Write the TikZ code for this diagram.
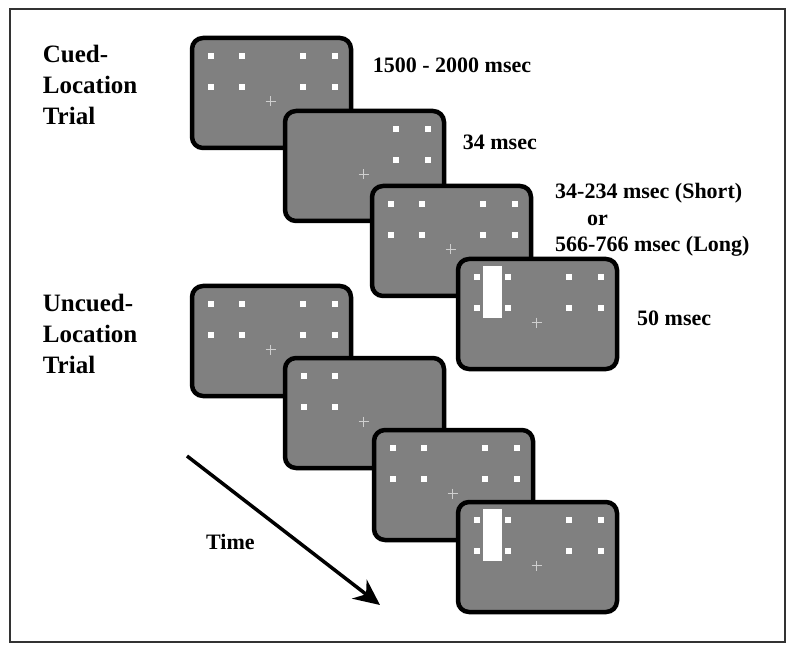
\documentclass[tikz,border=0pt]{standalone}
\usepackage{fontspec}
\setmainfont{Liberation Serif}
\usetikzlibrary{arrows.meta}
\definecolor{scrgray}{HTML}{808080}
\definecolor{fixgray}{HTML}{CFCFCF}
\tikzstyle{screen}=[draw=black,fill=scrgray,line width=4.5pt,rounded corners=11pt,minimum width=159pt,minimum height=110pt,inner sep=0pt]
\tikzstyle{dot}=[fill=white]
\tikzstyle{fix}=[draw=fixgray,line width=1.7pt]
\tikzstyle{dur}=[inner sep=0pt,anchor=base west,align=left,font=\fontsize{22}{26.5}\selectfont\bfseries]
\tikzstyle{trial}=[inner sep=0pt,anchor=base west,align=left,font=\fontsize{25}{31}\selectfont\bfseries]
\newcommand{\trialscreen}[4]{\node[screen] (#1) at (#2) {};
    \foreach \dx in {#3} {\foreach \dy in {-37,-6} {\fill[dot,shift={(#1.center)}] (\dx-3,\dy-3) rectangle +(6,6);}}
    \draw[fix,shift={(#1.center)}] (-6,8.5) -- (4,8.5) (-1,3.5) -- (-1,13.5);
    #4}
\newcommand{\target}[1]{\fill[white,shift={(#1.center)}] (-54.5,-48) rectangle (-35.5,4);}

\begin{document}
\begin{tikzpicture}[x=1pt,y=-1pt]
    \useasboundingbox (0,0) rectangle (795,652);
    \draw[black!80,line width=1.3pt] (10,9) rectangle (785,642);
    % cued-location trial
    \trialscreen{c1}{271.5,93}{-60.5,-29.5,31.5,63.5}{}
    \trialscreen{c2}{364.5,166}{31.5,63.5}{}
    \trialscreen{c3}{451.5,241}{-60.5,-29.5,31.5,63.5}{}
    \trialscreen{c4}{537.5,314}{-60.5,-29.5,31.5,63.5}{\target{c4}}
    % uncued-location trial
    \trialscreen{u1}{271.5,341}{-60.5,-29.5,31.5,63.5}{}
    \trialscreen{u2}{364.5,413}{-60.5,-29.5}{}
    \trialscreen{u3}{453.5,485}{-60.5,-29.5,31.5,63.5}{}
    \trialscreen{u4}{537.5,557}{-60.5,-29.5,31.5,63.5}{\target{u4}}

    % multi-line nodes sit on their last line
    \node[trial] (cued) at (42.7,125) {Cued-\\Location\\Trial};
    \node[trial] (uncued) at (42.7,373) {Uncued-\\Location\\Trial};
    \node[dur] (d1) at (372.7,73) {1500 - 2000 msec};
    \node[dur] (d2) at (462.7,150) {34 msec};
    \node[dur] (d3) at (555,252) {34-234 msec (Short)\\\hspace*{32pt}or\\566-766 msec (Long)};
    \node[dur] (d4) at (637,325) {50 msec};
    \node[dur] (time) at (206,549) {Time};

    \coordinate (tstart) at (187,456);
    \coordinate (tend) at (380,605);
    \draw[line width=3.5pt,-{Stealth[length=26pt,width=24pt]}] (tstart) -- (tend);
\end{tikzpicture}
\end{document}
